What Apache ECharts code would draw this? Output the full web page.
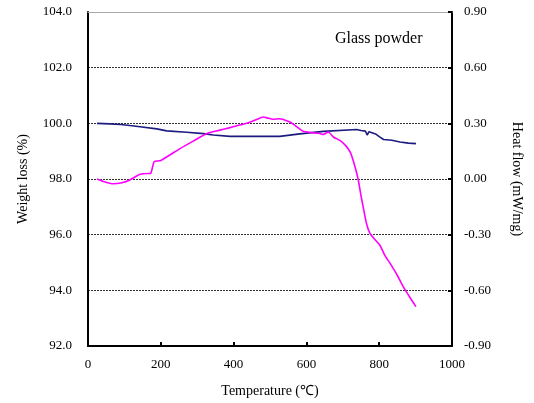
<!DOCTYPE html>
<html>
<head>
<meta charset="utf-8">
<script src="https://cdn.jsdelivr.net/npm/echarts@6/dist/echarts.min.js"></script>
<style>
  html, body { margin: 0; padding: 0; background: #fff; }
  #chart { width: 534px; height: 403px; }
</style>
</head>
<body>
<div id="chart"></div>
<script>
// TG curve: [temperature, weight %]
const weightLoss = [
  [25, 100.0], [60, 99.98], [90, 99.96], [115, 99.92], [143, 99.88], [189, 99.80],
  [216, 99.73], [271, 99.68], [317, 99.63], [344, 99.58], [390, 99.53], [450, 99.53],
  [527, 99.53], [530, 99.60], [582, 99.62], [585, 99.69], [647, 99.71], [650, 99.78],
  [738, 99.78], [750, 99.74], [762, 99.72], [767, 99.58], [772, 99.70], [790, 99.62],
  [800, 99.52], [812, 99.42], [835, 99.39], [857, 99.33], [880, 99.29], [901, 99.27]
]

// DSC curve: [temperature, heat flow mW/mg]
const heatFlow = [
  [25, 0.0], [45, -0.015], [69, -0.026], [90, -0.022], [115, -0.005], [143, 0.025],
  [165, 0.03], [172, 0.03], [178, 0.07], [182, 0.094], [200, 0.1], [253, 0.164],
  [290, 0.205], [327, 0.245], [360, 0.262], [390, 0.277], [436, 0.30], [460, 0.318],
  [481, 0.334], [495, 0.328], [508, 0.322], [527, 0.325], [540, 0.318], [555, 0.307],
  [575, 0.28], [591, 0.257], [615, 0.25], [637, 0.245], [646, 0.24], [660, 0.253],
  [675, 0.225], [692, 0.208], [708, 0.18], [720, 0.146], [730, 0.09], [742, 0.0],
  [750, -0.09], [756, -0.15], [765, -0.24], [775, -0.294], [790, -0.33], [802, -0.357],
  [815, -0.41], [830, -0.455], [850, -0.52], [866, -0.58], [885, -0.64], [901, -0.688]
]

const serif = 'Liberation Serif'

const chart = echarts.init(document.getElementById('chart'))

chart.setOption({
  animation: false,
  textStyle: { fontFamily: serif },
  grid: { left: 88, right: 82, top: 12, bottom: 57 },
  graphic: [{
    type: 'text',
    left: 335,
    top: 31,
    style: { text: 'Glass powder', font: '16px "Liberation Serif"', fill: '#000' }
  }],
  xAxis: [{
    type: 'value',
    min: 0,
    max: 1000,
    interval: 200,
    name: 'Temperature (℃)',
    nameLocation: 'middle',
    nameGap: 38,
    nameTextStyle: { fontSize: 14, color: '#000', fontFamily: serif },
    axisLine: { onZero: false, lineStyle: { color: '#000', width: 2 } },
    axisTick: { inside: true, length: 4, lineStyle: { color: '#000', width: 2 } },
    axisLabel: { color: '#000', fontSize: 13, margin: 12, formatter: v => String(v) },
    splitLine: { show: false }
  }, {
    type: 'value',
    position: 'top',
    min: 0,
    max: 1000,
    axisLine: { show: true, onZero: false, lineStyle: { color: '#aaa', width: 1 } },
    axisTick: { show: false },
    axisLabel: { show: false },
    splitLine: { show: false }
  }],
  yAxis: [{
    type: 'value',
    min: 92,
    max: 104,
    interval: 2,
    name: 'Weight loss (%)',
    nameLocation: 'middle',
    nameGap: 58,
    nameTextStyle: { fontSize: 14, color: '#000', fontFamily: serif },
    axisLine: { show: true, onZero: false, lineStyle: { color: '#000', width: 2 } },
    axisTick: { show: false },
    axisLabel: { color: '#000', fontSize: 13, margin: 16, formatter: v => v.toFixed(1) },
    splitLine: { show: true, lineStyle: { color: '#333', type: [2, 1], width: 1 } }
  }, {
    type: 'value',
    min: -0.9,
    max: 0.9,
    interval: 0.3,
    position: 'right',
    name: 'Heat flow (mW/mg)',
    nameLocation: 'middle',
    nameRotate: -90,
    nameGap: 58,
    nameTextStyle: { fontSize: 14, color: '#000', fontFamily: serif },
    axisLine: { show: true, onZero: false, lineStyle: { color: '#000', width: 2 } },
    axisTick: { show: true, inside: true, length: 4, lineStyle: { color: '#000', width: 2 } },
    axisLabel: { color: '#000', fontSize: 13, margin: 12, formatter: v => v.toFixed(2) },
    splitLine: { show: false }
  }],
  series: [{
    name: 'Weight loss',
    type: 'line',
    yAxisIndex: 0,
    data: weightLoss,
    showSymbol: false,
    lineStyle: { color: '#1c1c80', width: 1.6 }
  }, {
    name: 'Heat flow',
    type: 'line',
    yAxisIndex: 1,
    data: heatFlow,
    showSymbol: false,
    smooth: 0.2,
    lineStyle: { color: '#ff00ff', width: 1.6 }
  }]
})
</script>
</body>
</html>
